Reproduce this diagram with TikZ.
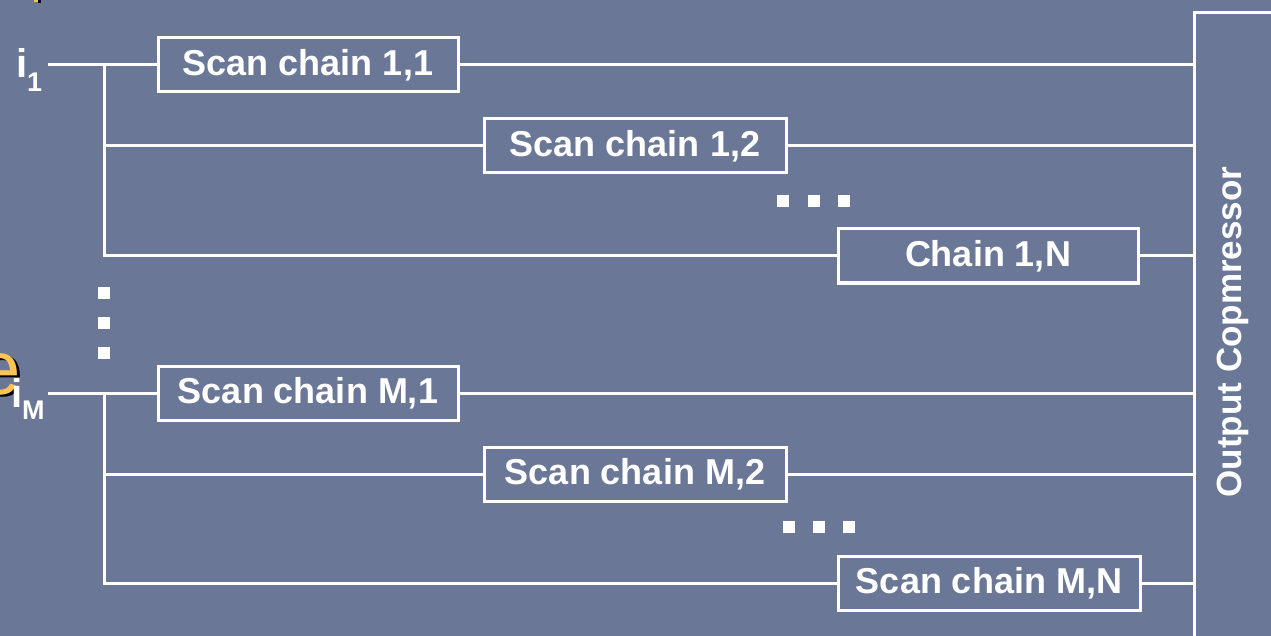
\documentclass[tikz,border=0pt]{standalone}
\usepackage{fontspec}
\setmainfont{Liberation Sans}
\definecolor{slate}{RGB}{106,119,150}
\definecolor{amber}{RGB}{250,196,84}
\tikzset{
  wire/.style={white, line width=3pt},
  chainbox/.style={draw=white, line width=3pt, text=white, inner sep=0pt,
    minimum height=54pt, font=\fontsize{36}{36}\selectfont\bfseries},
  dotsq/.style={fill=white},
  pinlabel/.style={text=white, inner sep=0pt, font=\fontsize{40}{40}\selectfont\bfseries},
  pinsub/.style={text=white, inner sep=0pt, font=\fontsize{27}{27}\selectfont\bfseries},
}
\begin{document}
\begin{tikzpicture}[x=1pt, y=-1pt]
  \useasboundingbox (0,0) rectangle (1271,636);
  \clip (0,0) rectangle (1271,636);
  \fill[slate] (0,0) rectangle (1271,636);

  % stray fragments of overlapping title text at the left edge
  \fill[amber] (34,0) rectangle (38,2);
  \fill[black] (38,0) rectangle (41,3);
  \node[anchor=base, inner sep=0pt, font=\fontsize{76}{76}\selectfont, text=black] (eshadow) at (3,396) {e};
  \node[anchor=base, inner sep=0pt, font=\fontsize{76}{76}\selectfont, text=amber] (efront) at (0,394) {e};

  % scan chains
  \node[chainbox, minimum width=300pt] (c11) at (308,65)  {Scan chain 1,1};
  \node[chainbox, minimum width=302pt] (c12) at (635,146) {Scan chain 1,2};
  \node[chainbox, minimum width=300pt] (c1N) at (988,256) {Chain 1,N};
  \node[chainbox, minimum width=300pt] (cM1) at (308,393) {Scan chain M,1};
  \node[chainbox, minimum width=302pt] (cM2) at (635,474) {Scan chain M,2};
  \node[chainbox, minimum width=302pt] (cMN) at (989,583) {Scan chain M,N};

  % output compressor (runs off the right and bottom edges)
  \node[draw=white, line width=3pt, anchor=north west, minimum width=120pt,
        minimum height=660pt, inner sep=0pt] (oc) at (1193,11) {};
  \node[rotate=90, text=white, font=\fontsize{35}{35}\selectfont\bfseries] (octext) at (1233,332) {Output Copmressor};

  % scan inputs
  \node[pinlabel, anchor=base west] (i1) at (16,78) {i};
  \node[pinsub, anchor=base west] (s1) at (27,92) {1};
  \node[pinlabel, anchor=base west] (iM) at (11,407) {i};
  \node[pinsub, anchor=base west] (sM) at (22,419) {M};

  \coordinate (in1) at (48,65);
  \coordinate (t1) at (104,65);
  \coordinate (inM) at (48,393);
  \coordinate (tM) at (104,393);

  % fan-out from input 1
  \draw[wire] (in1) -- (c11.west);
  \draw[wire] (t1) |- (c1N.west);
  \draw[wire] (t1 |- c12.west) -- (c12.west);
  % fan-out from input M
  \draw[wire] (inM) -- (cM1.west);
  \draw[wire] (tM) |- (cMN.west);
  \draw[wire] (tM |- cM2.west) -- (cM2.west);

  % chains into the compressor
  \foreach \c in {c11,c12,c1N,cM1,cM2,cMN}
    \draw[wire] (\c.east) -- (\c.east -| oc.west);

  % ellipsis marks
  \foreach \x in {777,808,838}
    \fill[dotsq] (\x,195) rectangle ++(12,12);
  \foreach \x in {783,813,843}
    \fill[dotsq] (\x,521) rectangle ++(12,12);
  \foreach \y in {287,317,347}
    \fill[dotsq] (98,\y) rectangle ++(12,12);
\end{tikzpicture}
\end{document}
